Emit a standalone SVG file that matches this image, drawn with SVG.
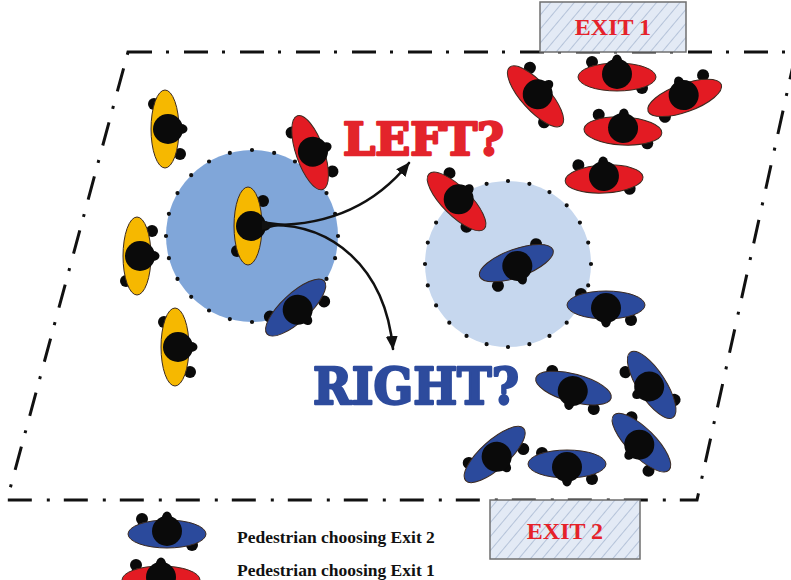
<svg xmlns="http://www.w3.org/2000/svg" xmlns:xlink="http://www.w3.org/1999/xlink" width="791" height="580" viewBox="0 0 791 580">
  <style>
    .wall { fill: none; stroke: #111; stroke-width: 3; stroke-dasharray: 24 14 3 15; }
    .exit { fill: url(#hatch); stroke: #6f6f6f; stroke-width: 1.5; }
    .exit-label { font-family: "Liberation Serif", "Times New Roman", serif; font-weight: bold; font-size: 24px; fill: #e5222a; text-anchor: middle; }
    .zone-edge { fill: none; stroke: #111; stroke-width: 4.2; stroke-linecap: round; stroke-dasharray: 0 1; }
    .choice { font-family: "DejaVu Serif", serif; font-weight: bold; stroke-width: 2.4; stroke-linejoin: round; }
    .legend-text { font-family: "Liberation Serif", "Times New Roman", serif; font-weight: bold; font-size: 17.5px; fill: #111; }
    .path { fill: none; stroke: #111; stroke-width: 2.6; stroke-linecap: round; }
  </style>
  <defs>
    <pattern id="hatch" patternUnits="userSpaceOnUse" width="9" height="9" patternTransform="rotate(40)">
      <rect width="9" height="9" fill="#e3eaf5"/>
      <line x1="0" y1="0" x2="0" y2="9" stroke="#a9b9d2" stroke-width="1.6"/>
    </pattern>
    <marker id="head" viewBox="0 0 14 12" refX="13" refY="6" markerWidth="14" markerHeight="12" markerUnits="userSpaceOnUse" orient="auto">
      <path d="M0,0 L14,6 L0,12 Z" fill="#111"/>
    </marker>
    <!-- top view of a walker facing up (-y); body colour comes from the fill of each <use> -->
    <g id="walker">
      <circle cx="-25" cy="-13" r="6" fill="#0a0a0a"/>
      <circle cx="25" cy="13" r="6" fill="#0a0a0a"/>
      <ellipse cx="0" cy="2" rx="39" ry="14" stroke="#3b2a20" stroke-width="1"/>
      <ellipse cx="0" cy="-14" rx="5" ry="6.5" fill="#0a0a0a"/>
      <circle cx="0" cy="-1" r="15" fill="#0a0a0a"/>
    </g>
  </defs>

  <rect width="791" height="580" fill="#ffffff"/>

  <!-- room boundary -->
  <g id="room">
    <path class="wall" d="M128,52 L796,52 L697,500 L7,500 Z"/>
  </g>

  <!-- exits -->
  <g id="exit1">
    <rect class="exit" x="540" y="2" width="146" height="50"/>
    <text class="exit-label" x="613" y="35">EXIT 1</text>
  </g>
  <g id="exit2">
    <rect class="exit" x="490" y="500" width="150" height="59"/>
    <text class="exit-label" x="565" y="539">EXIT 2</text>
  </g>

  <!-- perception zones -->
  <g id="zone-left">
    <circle cx="252" cy="236" r="86" fill="#80a6d9"/>
    <circle class="zone-edge" cx="252" cy="236" r="86" pathLength="24"/>
  </g>
  <g id="zone-right">
    <circle cx="508" cy="264" r="83" fill="#c6d7ee"/>
    <circle class="zone-edge" cx="508" cy="264" r="83" pathLength="24"/>
  </g>

  <!-- undecided walkers -->
  <g id="y1"><use href="#walker" fill="#f6b800" transform="translate(167,129) rotate(90) scale(-1,1)"/></g>
  <g id="y2"><use href="#walker" fill="#f6b800" transform="translate(139,256) rotate(90)"/></g>
  <g id="y3"><use href="#walker" fill="#f6b800" transform="translate(177,347) rotate(90) scale(-1,1)"/></g>
  <g id="y4"><use href="#walker" fill="#f6b800" transform="translate(250,226) rotate(90)"/></g>

  <!-- walkers heading to exit 1 -->
  <g id="r1"><use href="#walker" fill="#e31b23" transform="translate(312,152) rotate(71) scale(-1,1)"/></g>
  <g id="r2"><use href="#walker" fill="#e31b23" transform="translate(458,200) rotate(45)"/></g>
  <g id="r3"><use href="#walker" fill="#e31b23" transform="translate(537,95) rotate(48)"/></g>
  <g id="r4"><use href="#walker" fill="#e31b23" transform="translate(617,75)"/></g>
  <g id="r5"><use href="#walker" fill="#e31b23" transform="translate(684,96) rotate(-20) scale(-1,1)"/></g>
  <g id="r6"><use href="#walker" fill="#e31b23" transform="translate(623,129) rotate(3)"/></g>
  <g id="r7"><use href="#walker" fill="#e31b23" transform="translate(604,177) rotate(-3)"/></g>

  <!-- walkers heading to exit 2 -->
  <g id="b1"><use href="#walker" fill="#2b4a9c" transform="translate(297,309) rotate(137)"/></g>
  <g id="b2"><use href="#walker" fill="#2b4a9c" transform="translate(517,265) rotate(160) scale(-1,1)"/></g>
  <g id="b3"><use href="#walker" fill="#2b4a9c" transform="translate(606,307) rotate(180)"/></g>
  <g id="b4"><use href="#walker" fill="#2b4a9c" transform="translate(573,390) rotate(195)"/></g>
  <g id="b5"><use href="#walker" fill="#2b4a9c" transform="translate(650,386) rotate(237) scale(-1,1)"/></g>
  <g id="b6"><use href="#walker" fill="#2b4a9c" transform="translate(496,456) rotate(138)"/></g>
  <g id="b7"><use href="#walker" fill="#2b4a9c" transform="translate(567,466) rotate(180)"/></g>
  <g id="b8"><use href="#walker" fill="#2b4a9c" transform="translate(640,444) rotate(225)"/></g>

  <!-- route choice arrows -->
  <g id="connectors">
    <path d="M262,221 L286,224 L262,230 Z" fill="#111"/>
    <path class="path" d="M270,225 C330,226 375,205 409,163" marker-end="url(#head)"/>
    <path class="path" d="M270,225 C330,224 385,265 393,349" marker-end="url(#head)"/>
  </g>

  <!-- choice labels -->
  <g id="labels">
    <text class="choice" x="343" y="155" font-size="45" fill="#e3242b" stroke="#e3242b" textLength="161" lengthAdjust="spacingAndGlyphs">LEFT?</text>
    <text class="choice" x="313" y="404" font-size="50" fill="#2d4b9d" stroke="#2d4b9d" textLength="206" lengthAdjust="spacingAndGlyphs">RIGHT?</text>
  </g>

  <!-- legend -->
  <g id="legend">
    <use href="#walker" fill="#2b4a9c" transform="translate(167,532)"/>
    <text class="legend-text" x="237" y="543">Pedestrian choosing Exit 2</text>
    <use href="#walker" fill="#e31b23" transform="translate(161,578)"/>
    <text class="legend-text" x="237" y="576">Pedestrian choosing Exit 1</text>
  </g>
</svg>
